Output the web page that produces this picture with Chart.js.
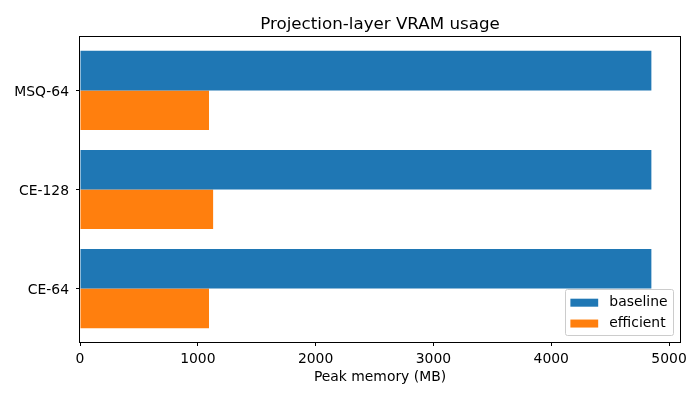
<!DOCTYPE html>
<html>
<head>
<meta charset="utf-8">
<script src="https://cdn.jsdelivr.net/npm/chart.js@4"></script>
<style>body{margin:0;background:#fff}canvas{display:block}</style>
</head>
<body>
<canvas id="c" width="700" height="400"></canvas>
<script>
// categories bottom -> top (as in matplotlib barh)
const categories = ['CE-64', 'CE-128', 'MSQ-64'];
const baseline = [4850, 4850, 4850];
const efficient = [1095, 1130, 1095];
const xTicks = [0, 1000, 2000, 3000, 4000, 5000];
const seriesNames = ['baseline', 'efficient'];
const colors = ['#1f77b4', '#ff7f0e'];
const titleText = 'Projection-layer VRAM usage';

const FONT = "'DejaVu Sans', sans-serif";

const frame = {
  id: 'frame',
  afterDatasetsDraw(chart) {
    const a = chart.chartArea, ctx = chart.ctx;
    ctx.save();
    ctx.strokeStyle = '#000';
    ctx.lineWidth = 1;
    ctx.strokeRect(Math.round(a.left) - 0.5, Math.round(a.top) - 0.5,
      Math.round(a.right - a.left) + 1, Math.round(a.bottom - a.top) + 1);
    ctx.restore();
  },
  afterDraw(chart) {
    const a = chart.chartArea, ctx = chart.ctx;
    ctx.save();
    // title centred over plot area
    ctx.font = '16.7px ' + FONT;
    ctx.fillStyle = '#000';
    ctx.textAlign = 'center';
    ctx.textBaseline = 'middle';
    ctx.fillText(titleText, (a.left + a.right) / 2, 24.5);
    // legend
    const fs = 13.9;
    ctx.font = fs + 'px ' + FONT;
    ctx.textAlign = 'left';
    const tw = Math.max(...seriesNames.map(n => ctx.measureText(n).width));
    const pad = 0.4 * fs, hl = 2 * fs, htp = 0.8 * fs, ls = 0.5 * fs, rowH = fs * 1.0;
    const w = pad + hl + htp + tw + pad;
    const h = pad * 2 + rowH * 2 + ls;
    const x0 = a.right - 0.5 * fs - w, y0 = a.bottom - 0.5 * fs - h;
    ctx.fillStyle = 'rgba(255,255,255,0.8)';
    ctx.strokeStyle = '#cccccc';
    ctx.lineWidth = 1;
    ctx.beginPath();
    ctx.roundRect(Math.round(x0) + 0.5, Math.round(y0) + 0.5, Math.round(w), Math.round(h), 2);
    ctx.fill(); ctx.stroke();
    ctx.textBaseline = 'middle';
    seriesNames.forEach((n, i) => {
      const cy = y0 + pad + rowH / 2 + i * (rowH + ls) + 1;
      ctx.fillStyle = colors[i];
      ctx.fillRect(x0 + pad, cy - 4, hl, 8);
      ctx.fillStyle = '#000';
      ctx.fillText(n, x0 + pad + hl + htp, cy);
    });
    ctx.restore();
  }
};

new Chart(document.getElementById('c'), {
  type: 'bar',
  data: {
    datasets: [
      { label: seriesNames[0], data: baseline.map((v, i) => ({ x: v, y: i })), backgroundColor: colors[0] },
      { label: seriesNames[1], data: efficient.map((v, i) => ({ x: v, y: i })), backgroundColor: colors[1] }
    ]
  },
  plugins: [frame],
  options: {
    indexAxis: 'y',
    responsive: false,
    animation: false,
    devicePixelRatio: 1,
    categoryPercentage: 0.8,
    barPercentage: 1.0,
    layout: { padding: { left: 0, right: 20, top: 37, bottom: 0 } },
    plugins: {
      legend: { display: false },
      tooltip: { enabled: false },
      title: { display: false }
    },
    scales: {
      x: {
        type: 'linear',
        min: 0,
        max: 5093,
        afterBuildTicks: s => { s.ticks = xTicks.map(v => ({ value: v })); },
        afterFit: s => { s.height = 58; },
        border: { display: false },
        grid: { display: true, drawOnChartArea: false, drawTicks: true, tickLength: 4, tickColor: '#000', tickWidth: 1 },
        ticks: { color: '#000', font: { family: FONT, size: 13.9 }, padding: 5, maxRotation: 0, callback: v => String(v) },
        title: { display: true, text: 'Peak memory (MB)', color: '#000', font: { family: FONT, size: 13.9 }, padding: { top: 2, bottom: 14 } }
      },
      y: {
        type: 'linear',
        offset: false,
        min: -0.54,
        max: 2.54,
        afterBuildTicks: s => { s.ticks = categories.map((c, i) => ({ value: i })); },
        afterFit: s => { s.width = 80; },
        border: { display: false },
        grid: { display: true, offset: false, drawOnChartArea: false, drawTicks: true, tickLength: 4, tickColor: '#000', tickWidth: 1 },
        ticks: { color: '#000', font: { family: FONT, size: 13.9 }, padding: 7, labelOffset: 2, callback: v => categories[v] }
      }
    }
  }
});
</script>
</body>
</html>
